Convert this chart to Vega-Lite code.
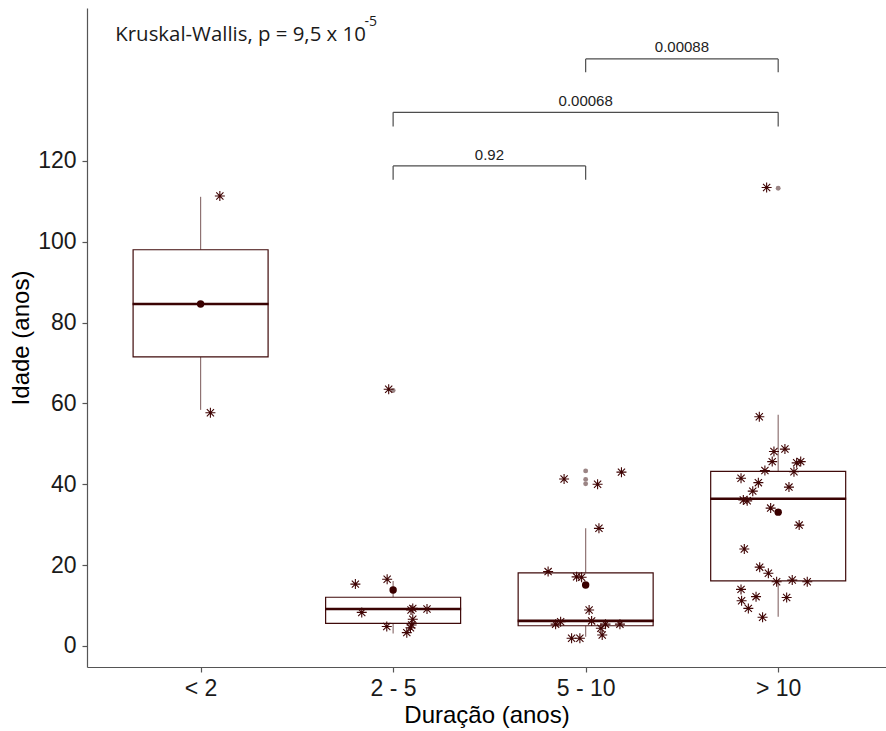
{
"$schema": "https://vega.github.io/schema/vega-lite/v6.json",
"width": 799, "height": 659,
"autosize": {"type": "none"},
"padding": {"left": 87, "top": 8, "right": 0, "bottom": 64},
"background": "white",
"config": {
  "view": {"stroke": null},
  "axis": {"grid": false, "domainColor": "#555555", "domainWidth": 1.2, "tickColor": "#555555", "tickWidth": 1.2, "tickSize": 5,
    "labelColor": "#1a1a1a", "labelFont": "Liberation Sans", "labelFontSize": 23,
    "titleFont": "Liberation Sans", "titleFontSize": 24, "titleFontWeight": "normal", "titleColor": "#000000"}
},
"datasets": {
  "boxes": [
    {"x": 1, "q1": 71.5, "med": 84.6, "q3": 98.0, "lo": 58.4, "hi": 111.1, "mean": 84.6},
    {"x": 2, "q1": 5.6, "med": 9.15, "q3": 12.05, "lo": 3.1, "hi": 16.1, "mean": 13.85},
    {"x": 3, "q1": 5.0, "med": 6.2, "q3": 18.1, "lo": 2.3, "hi": 29.1, "mean": 15.1},
    {"x": 4, "q1": 16.1, "med": 36.4, "q3": 43.2, "lo": 7.25, "hi": 57.2, "mean": 33.1}
  ],
  "outliers": [
    {"x": 2, "y": 63.2}, {"x": 3, "y": 43.3}, {"x": 3, "y": 41.2}, {"x": 3, "y": 40.1}, {"x": 4, "y": 113.2}
  ],
  "pts": [
    {"x": 1.100, "y": 111.3}, {"x": 1.051, "y": 57.7},
    {"x": 1.977, "y": 63.5}, {"x": 1.804, "y": 15.3}, {"x": 1.969, "y": 16.5}, {"x": 1.837, "y": 8.3},
    {"x": 2.102, "y": 9.3}, {"x": 2.093, "y": 8.9}, {"x": 2.176, "y": 9.15}, {"x": 2.102, "y": 6.6},
    {"x": 2.096, "y": 5.2}, {"x": 2.090, "y": 4.5}, {"x": 1.967, "y": 4.8}, {"x": 2.071, "y": 3.3},
    {"x": 2.888, "y": 41.3}, {"x": 3.186, "y": 43.0}, {"x": 3.062, "y": 40.0}, {"x": 3.069, "y": 29.1},
    {"x": 2.805, "y": 18.4}, {"x": 2.953, "y": 17.1}, {"x": 2.979, "y": 17.0}, {"x": 3.018, "y": 8.9},
    {"x": 3.031, "y": 6.2}, {"x": 2.870, "y": 6.0}, {"x": 2.844, "y": 5.4}, {"x": 3.103, "y": 5.4},
    {"x": 3.178, "y": 5.4}, {"x": 3.079, "y": 4.4}, {"x": 3.086, "y": 2.7}, {"x": 2.927, "y": 1.9},
    {"x": 2.970, "y": 1.9},
    {"x": 3.940, "y": 113.4}, {"x": 3.902, "y": 56.7}, {"x": 4.035, "y": 48.7}, {"x": 3.978, "y": 48.1},
    {"x": 3.969, "y": 45.6}, {"x": 4.096, "y": 45.3}, {"x": 4.117, "y": 45.6}, {"x": 4.082, "y": 43.1},
    {"x": 3.931, "y": 43.4}, {"x": 3.807, "y": 41.5}, {"x": 3.897, "y": 40.4}, {"x": 4.056, "y": 39.3},
    {"x": 3.868, "y": 38.3}, {"x": 3.819, "y": 36.1}, {"x": 3.839, "y": 35.9}, {"x": 3.961, "y": 34.1},
    {"x": 4.109, "y": 29.9}, {"x": 3.824, "y": 24.0}, {"x": 3.904, "y": 19.5}, {"x": 3.949, "y": 18.0},
    {"x": 3.992, "y": 15.9}, {"x": 4.073, "y": 16.3}, {"x": 4.151, "y": 15.9}, {"x": 3.807, "y": 14.0},
    {"x": 3.885, "y": 12.2}, {"x": 4.044, "y": 12.0}, {"x": 3.810, "y": 11.2}, {"x": 3.845, "y": 9.3},
    {"x": 3.919, "y": 7.1}
  ],
  "brackets": [
    {"x1": 2, "x2": 3, "xm": 2.5, "y": 118.75, "yt": 115.3, "ytxt": 121.5, "label": "0.92"},
    {"x1": 2, "x2": 4, "xm": 3, "y": 132.0, "yt": 128.5, "ytxt": 134.7, "label": "0.00068"},
    {"x1": 3, "x2": 4, "xm": 3.5, "y": 145.2, "yt": 141.9, "ytxt": 148.1, "label": "0.00088"}
  ],
  "notes": [
    {"x": 0.557, "y": 149.7, "xs": 1.851, "ys": 153.4, "label": "Kruskal-Wallis, p = 9,5 x 10", "sup": "-5"}
  ]
},
"layer": [
  {"data": {"name": "boxes"},
   "mark": {"type": "rule", "color": "#8f7272", "strokeWidth": 1.2},
   "encoding": {
     "x": {"field": "x", "type": "quantitative", "scale": {"domain": [0.41, 4.56], "nice": false, "zero": false, "padding": 0},
       "axis": {"values": [1, 2, 3, 4], "title": "Duração (anos)", "labelPadding": 5, "titlePadding": 3,
         "labelExpr": "datum.value == 1 ? '< 2' : datum.value == 2 ? '2 - 5' : datum.value == 3 ? '5 - 10' : '> 10'"}},
     "y": {"field": "q3", "type": "quantitative", "scale": {"domain": [-5.2, 157.8], "nice": false, "zero": false, "padding": 0},
       "axis": {"values": [0, 20, 40, 60, 80, 100, 120], "title": "Idade (anos)", "labelPadding": 6, "titlePadding": 4}},
     "y2": {"field": "hi"}
   }},
  {"data": {"name": "boxes"},
   "mark": {"type": "rule", "color": "#8f7272", "strokeWidth": 1.2},
   "encoding": {
     "x": {"field": "x", "type": "quantitative", "title": "Duração (anos)"},
     "y": {"field": "lo", "type": "quantitative", "title": "Idade (anos)"},
     "y2": {"field": "q1"}
   }},
  {"data": {"name": "boxes"},
   "mark": {"type": "bar", "size": 135, "fill": "white", "stroke": "#3f0a0a", "strokeWidth": 1.2},
   "encoding": {
     "x": {"field": "x", "type": "quantitative", "title": "Duração (anos)"},
     "y": {"field": "q1", "type": "quantitative", "title": "Idade (anos)"},
     "y2": {"field": "q3"}
   }},
  {"data": {"name": "boxes"},
   "mark": {"type": "tick", "orient": "horizontal", "size": 136, "thickness": 2.6, "color": "#3a0303", "opacity": 1},
   "encoding": {
     "x": {"field": "x", "type": "quantitative", "title": "Duração (anos)"},
     "y": {"field": "med", "type": "quantitative", "title": "Idade (anos)"}
   }},
  {"data": {"name": "outliers"},
   "mark": {"type": "point", "shape": "circle", "filled": true, "size": 24, "color": "#9b8585", "opacity": 1},
   "encoding": {
     "x": {"field": "x", "type": "quantitative", "title": "Duração (anos)"},
     "y": {"field": "y", "type": "quantitative", "title": "Idade (anos)"}
   }},
  {"data": {"name": "pts"},
   "mark": {"type": "point", "shape": "M0,-1L0,1M-1,0L1,0M-0.72,-0.72L0.72,0.72M-0.72,0.72L0.72,-0.72", "filled": false, "size": 100, "stroke": "#400505", "strokeWidth": 1.1, "opacity": 1},
   "encoding": {
     "x": {"field": "x", "type": "quantitative", "title": "Duração (anos)"},
     "y": {"field": "y", "type": "quantitative", "title": "Idade (anos)"}
   }},
  {"data": {"name": "boxes"},
   "mark": {"type": "point", "shape": "circle", "filled": true, "size": 55, "color": "#3a0000", "opacity": 1},
   "encoding": {
     "x": {"field": "x", "type": "quantitative", "title": "Duração (anos)"},
     "y": {"field": "mean", "type": "quantitative", "title": "Idade (anos)"}
   }},
  {"data": {"name": "brackets"},
   "mark": {"type": "rule", "color": "#4d4d4d", "strokeWidth": 1.2},
   "encoding": {
     "x": {"field": "x1", "type": "quantitative", "title": "Duração (anos)"},
     "x2": {"field": "x2"},
     "y": {"field": "y", "type": "quantitative", "title": "Idade (anos)"}
   }},
  {"data": {"name": "brackets"},
   "mark": {"type": "rule", "color": "#4d4d4d", "strokeWidth": 1.2},
   "encoding": {
     "x": {"field": "x1", "type": "quantitative", "title": "Duração (anos)"},
     "y": {"field": "yt", "type": "quantitative", "title": "Idade (anos)"},
     "y2": {"field": "y"}
   }},
  {"data": {"name": "brackets"},
   "mark": {"type": "rule", "color": "#4d4d4d", "strokeWidth": 1.2},
   "encoding": {
     "x": {"field": "x2", "type": "quantitative", "title": "Duração (anos)"},
     "y": {"field": "yt", "type": "quantitative", "title": "Idade (anos)"},
     "y2": {"field": "y"}
   }},
  {"data": {"name": "brackets"},
   "mark": {"type": "text", "font": "Liberation Sans", "fontSize": 15, "color": "#222222", "align": "center", "baseline": "middle"},
   "encoding": {
     "x": {"field": "xm", "type": "quantitative", "title": "Duração (anos)"},
     "y": {"field": "ytxt", "type": "quantitative", "title": "Idade (anos)"},
     "text": {"field": "label"}
   }},
  {"data": {"name": "notes"},
   "mark": {"type": "text", "font": "Open Sans", "fontSize": 20.4, "color": "#1a1a1a", "align": "left", "baseline": "alphabetic"},
   "encoding": {
     "x": {"field": "x", "type": "quantitative", "title": "Duração (anos)"},
     "y": {"field": "y", "type": "quantitative", "title": "Idade (anos)"},
     "text": {"field": "label"}
   }},
  {"data": {"name": "notes"},
   "mark": {"type": "text", "font": "Open Sans", "fontSize": 14, "color": "#1a1a1a", "align": "left", "baseline": "alphabetic"},
   "encoding": {
     "x": {"field": "xs", "type": "quantitative", "title": "Duração (anos)"},
     "y": {"field": "ys", "type": "quantitative", "title": "Idade (anos)"},
     "text": {"field": "sup"}
   }}
]
}
